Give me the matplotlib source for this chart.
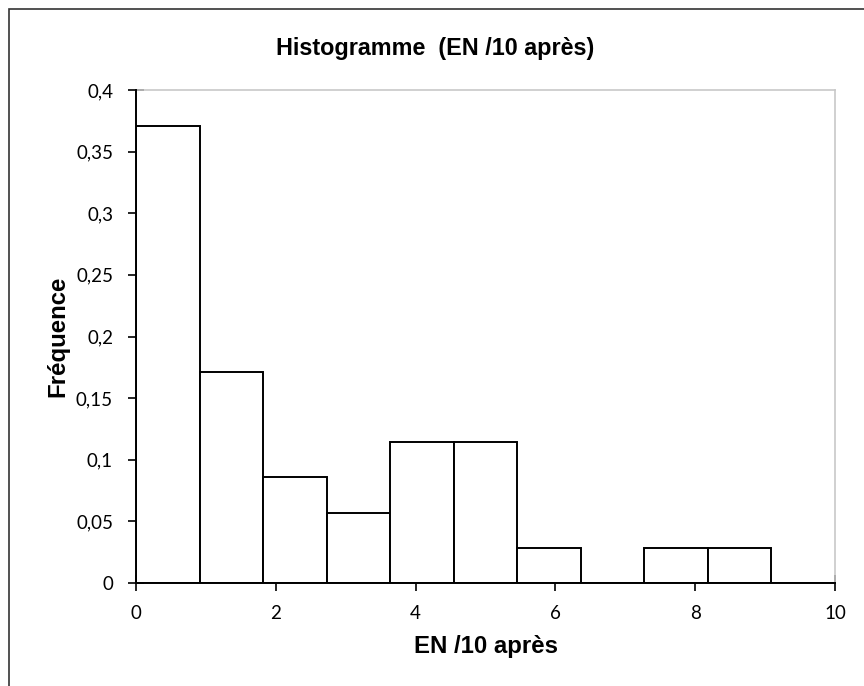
import numpy as np
import matplotlib.pyplot as plt
from matplotlib.patches import Rectangle

# données (fréquences par classe)
bords = [0, 0.909, 1.818, 2.727, 3.636, 4.545, 5.455, 6.364, 7.273, 8.182, 9.091, 10]
freq = [0.371, 0.171, 0.0857, 0.0571, 0.114, 0.114, 0.0286, 0.0, 0.0286, 0.0286, 0.0]
yticks = [0, 0.05, 0.1, 0.15, 0.2, 0.25, 0.3, 0.35, 0.4]
ylabels = ["0", "0,05", "0,1", "0,15", "0,2", "0,25", "0,3", "0,35", "0,4"]
xticks = [0, 2, 4, 6, 8, 10]

fig = plt.figure(figsize=(8.64, 6.86), dpi=100)
ax = fig.add_axes([136 / 864, 1 - 583 / 686, (835 - 136) / 864, (583 - 90) / 686])

# cadre extérieur (seuls haut et gauche visibles)
fig.patches.append(Rectangle((9 / 864, -0.05), 1.2, 1 - 9 / 686 + 0.05,
                             transform=fig.transFigure, fill=False,
                             edgecolor="#333333", linewidth=1.2))

largeurs = np.diff(bords)
ax.bar(bords[:-1], freq, width=largeurs, align="edge",
       facecolor="white", edgecolor="black", linewidth=1.4, zorder=2)

ax.set_xlim(0, 10)
ax.set_ylim(0, 0.4)
ax.set_yticks(yticks)
ax.set_yticklabels(ylabels)
ax.set_xticks(xticks)

for s in ["top", "right"]:
    ax.spines[s].set_color("#c8c8c8")
    ax.spines[s].set_linewidth(1.2)
for s in ["left", "bottom"]:
    ax.spines[s].set_color("black")
    ax.spines[s].set_linewidth(1.4)
    ax.spines[s].set_zorder(3)

ax.tick_params(direction="inout", length=11, width=1.2, colors="black",
               labelsize=13.5)
ax.tick_params(axis="y", pad=11)
ax.tick_params(axis="x", pad=10)
for lab in ax.get_xticklabels() + ax.get_yticklabels():
    lab.set_family("Lato")

# titre centré sur la zone du graphique entier
fig.text(435 / 864, 1 - 48 / 686, "Histogramme  (EN /10 après)", fontsize=16.8,
         fontweight="bold", family="Liberation Sans", ha="center", va="center")
ax.set_xlabel("EN /10 après", fontsize=17.3, fontweight="bold",
              family="Liberation Sans", labelpad=10)
ax.set_ylabel("Fréquence", fontsize=17.3, fontweight="bold",
              family="Liberation Sans", labelpad=5)

plt.savefig("out.png", dpi=100)
